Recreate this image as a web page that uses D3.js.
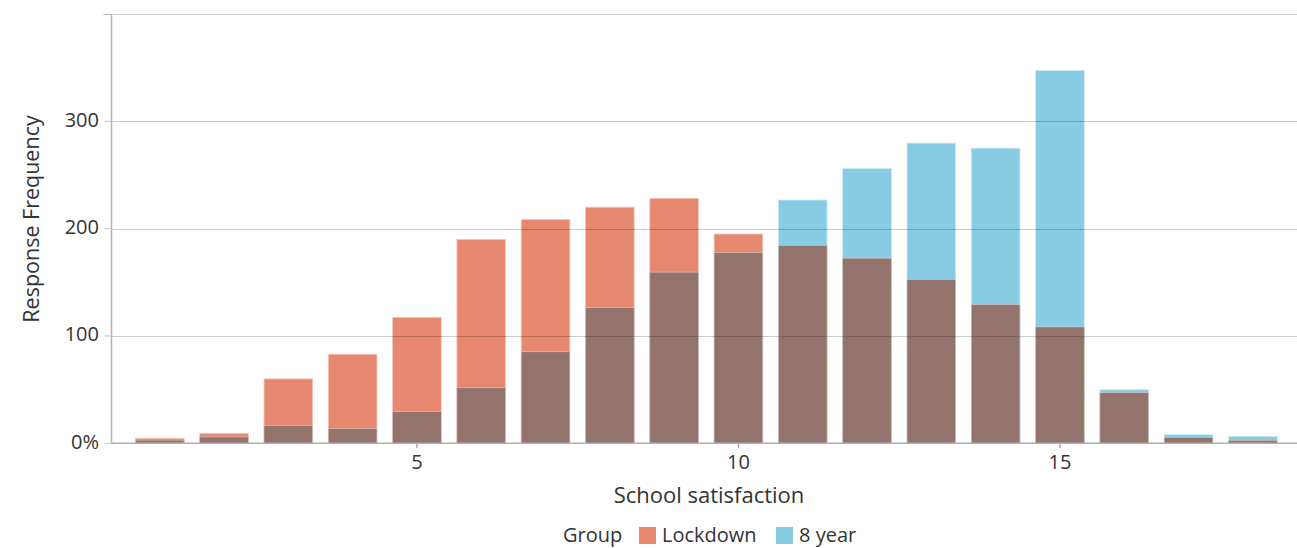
<!DOCTYPE html>
<html>
<head>
<meta charset="utf-8">
<script src="https://cdn.jsdelivr.net/npm/d3@7"></script>
<style>
html,body{margin:0;padding:0;background:#fff;}
svg{display:block;}
text{font-family:"Open Sans","Noto Sans",sans-serif;fill:#333;}
</style>
</head>
<body>
<svg id="chart" width="1297" height="548"></svg>
<script>
const categories = [1,2,3,4,5,6,7,8,9,10,11,12,13,14,15,16,17,18];
const lockdown = [4.7, 9.3, 60, 83, 117.4, 190, 208.5, 220, 228.3, 195, 184.4, 172.5, 152.6, 129.3, 108.4, 47.2, 5.5, 2.8];
const eightYear = [3, 6, 16.5, 13.6, 29.5, 51.7, 85.3, 126.4, 159.5, 177.6, 226.7, 256, 279.7, 275, 347.3, 50, 8, 6.5];
const xTicks = [5, 10, 15];
const yTicks = [0, 100, 200, 300];
const yTickLabels = ["0%", "100", "200", "300"];
const gridValues = [100, 200, 300, 400];
const seriesNames = ["Lockdown", "8 year"];

const colors = {lockdown:"#e6876f", eight:"#88cce4", overlap:"#95736d"};

const svg = d3.select("#chart");
const left = 111.5, baseY = 443.3, topY = 14;
const x = d3.scaleLinear().domain([0.25, 18.75]).range([left, left + 18.5*64.3]);
const y = d3.scaleLinear().domain([0, 400]).range([baseY, topY]);
const bw = 0.757 * (x(1) - x(0));

const data = categories.map((c,i)=>({c, l:lockdown[i], e:eightYear[i]}));

const bars = svg.append("g");
bars.selectAll("rect.big").data(data).join("rect")
  .attr("x", d=>x(d.c)-bw/2).attr("width", bw)
  .attr("y", d=>y(Math.max(d.l,d.e))).attr("height", d=>baseY-y(Math.max(d.l,d.e)))
  .attr("fill", d=> d.l>=d.e ? colors.lockdown : colors.eight)
  .attr("stroke", d=> d.l>=d.e ? "#f6c9bd" : "#c9ebf6").attr("stroke-width", 0.8);
bars.selectAll("rect.ov").data(data).join("rect")
  .attr("x", d=>x(d.c)-bw/2).attr("width", bw)
  .attr("y", d=>y(Math.min(d.l,d.e))).attr("height", d=>baseY-y(Math.min(d.l,d.e)))
  .attr("fill", colors.overlap)
  .attr("stroke", "#d9cbc8").attr("stroke-width", 0.6);

svg.append("g").selectAll("line").data(gridValues).join("line")
  .attr("x1", left).attr("x2", 1297)
  .attr("y1", d=>Math.round(y(d))+0.5).attr("y2", d=>Math.round(y(d))+0.5)
  .attr("stroke", d=> d===400 ? "rgba(0,0,0,0.18)" : "rgba(0,0,0,0.2)").attr("stroke-width", 1);

svg.append("line").attr("x1", left).attr("x2", left).attr("y1", topY).attr("y2", baseY)
  .attr("stroke", "#b5b5b5").attr("stroke-width", 1.5);
svg.append("line").attr("x1", left-8).attr("x2", left).attr("y1", topY+0.5).attr("y2", topY+0.5)
  .attr("stroke", "#b5b5b5").attr("stroke-width", 1);
svg.append("line").attr("x1", left).attr("x2", 1297).attr("y1", baseY).attr("y2", baseY)
  .attr("stroke", "#b0b0b0").attr("stroke-width", 1.5);

svg.append("g").selectAll("text").data(yTicks).join("text")
  .attr("x", 99).attr("y", d=>y(d)-1.5).attr("dy", "0.35em")
  .attr("text-anchor", "end").attr("font-size", 20)
  .text((d,i)=>yTickLabels[i]);
svg.append("g").selectAll("line").data(yTicks).join("line")
  .attr("x1", left-7).attr("x2", left).attr("y1", d=>y(d)).attr("y2", d=>y(d))
  .attr("stroke", "#c0c0c0");

svg.append("g").selectAll("line").data(xTicks).join("line")
  .attr("x1", d=>x(d)).attr("x2", d=>x(d)).attr("y1", baseY).attr("y2", baseY+5)
  .attr("stroke", "#aaa").attr("stroke-width", 1.5);
svg.append("g").selectAll("text").data(xTicks).join("text")
  .attr("x", d=>x(d)).attr("y", 462).attr("dy", "0.35em")
  .attr("text-anchor", "middle").attr("font-size", 20)
  .text(d=>d);

svg.append("text").attr("x", 709).attr("y", 495).attr("dy","0.35em")
  .attr("text-anchor","middle").attr("font-size", 22).text("School satisfaction");
svg.append("text").attr("transform","translate(31,219) rotate(-90)").attr("dy","0.35em")
  .attr("text-anchor","middle").attr("font-size", 21.5).text("Response Frequency");

const lg = svg.append("g");
lg.append("text").attr("x", 563).attr("y", 535).attr("dy","0.35em").attr("font-size", 20).text("Group");
const lItems = [{name:seriesNames[0], c:colors.lockdown, x:639},{name:seriesNames[1], c:colors.eight, x:776}];
lItems.forEach(it=>{
  lg.append("rect").attr("x", it.x).attr("y", 527).attr("width", 17).attr("height", 17).attr("fill", it.c);
  lg.append("text").attr("x", it.x+23).attr("y", 535).attr("dy","0.35em").attr("font-size", 20).text(it.name);
});
</script>
</body>
</html>
